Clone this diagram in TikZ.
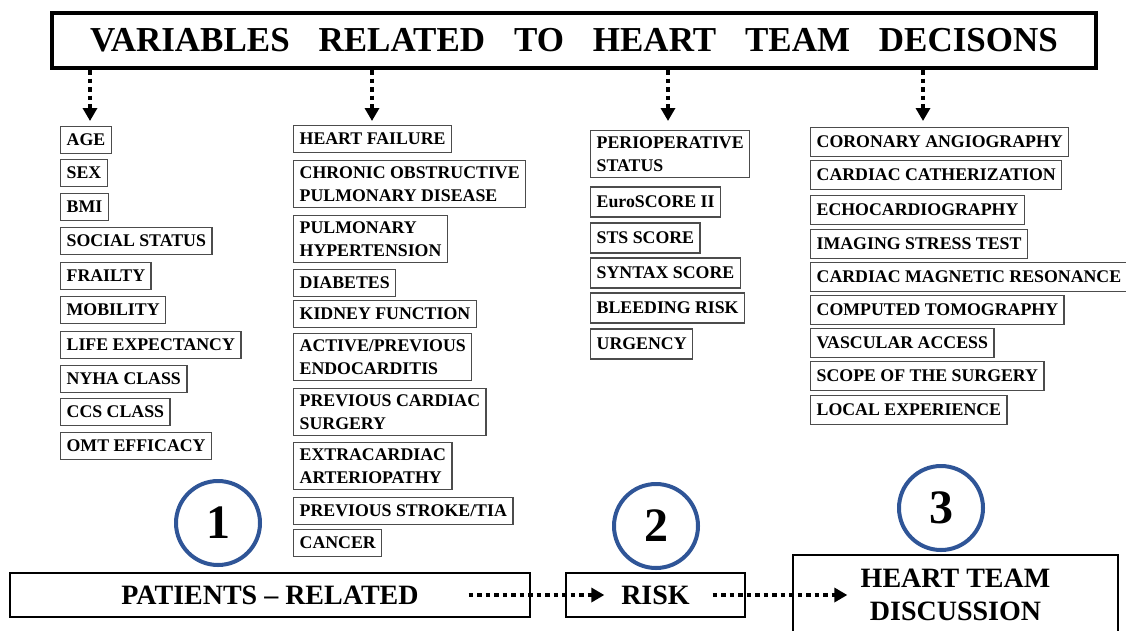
\documentclass[tikz,border=0pt]{standalone}
\usepackage{fontspec}
\setmainfont{Liberation Serif}
\usepackage{tikz}
\usetikzlibrary{arrows.meta}
\definecolor{StepBlue}{RGB}{47,85,151}

\begin{document}
\begin{tikzpicture}[x=1pt, y=-1pt,
TitleBox/.style={draw, line width=4pt, minimum height=55pt, inner xsep=38pt, text width=968pt, align=left, font=\fontsize{35}{40}\selectfont\bfseries},
ItemBox/.style={draw=black!70, line width=1.3pt, anchor=west, align=left, inner xsep=6pt, inner ysep=6pt, minimum height=27pt, font=\fontsize{17.8}{23}\selectfont\bfseries},
StepBox/.style={draw, line width=1.3pt, align=center, font=\fontsize{28}{33}\selectfont\bfseries},
StepNumber/.style={circle, draw=StepBlue, line width=4pt, minimum size=84pt, inner sep=0pt, font=\fontsize{48}{50}\selectfont\bfseries},
FlowArrow/.style={line width=4pt, dash pattern=on 4.5pt off 4pt, -{Triangle[width=14pt,length=13pt]}}]

\useasboundingbox (0,0) rectangle (1126,630);

\node[TitleBox] (title) at (574,40.5) {VARIABLES\hfill RELATED\hfill TO\hfill HEART\hfill TEAM\hfill DECISONS};

\node[ItemBox] (age) at (60,140) {AGE};
\node[ItemBox] (sex) at (60,173) {SEX};
\node[ItemBox] (bmi) at (60,207) {BMI};
\node[ItemBox] (social) at (60,241) {SOCIAL STATUS};
\node[ItemBox] (frailty) at (60,276) {FRAILTY};
\node[ItemBox] (mobility) at (60,310) {MOBILITY};
\node[ItemBox] (lifeexp) at (60,345) {LIFE EXPECTANCY};
\node[ItemBox] (nyha) at (60,379) {NYHA CLASS};
\node[ItemBox] (ccs) at (60,412) {CCS CLASS};
\node[ItemBox] (omt) at (60,446) {OMT EFFICACY};

\node[ItemBox] (hf) at (293,139) {HEART FAILURE};
\node[ItemBox] (copd) at (293,184) {CHRONIC OBSTRUCTIVE\\PULMONARY DISEASE};
\node[ItemBox] (pht) at (293,239) {PULMONARY\\HYPERTENSION};
\node[ItemBox] (diab) at (293,283) {DIABETES};
\node[ItemBox] (kidney) at (293,314) {KIDNEY FUNCTION};
\node[ItemBox] (endo) at (293,357) {ACTIVE/PREVIOUS\\ENDOCARDITIS};
\node[ItemBox] (prevsurg) at (293,412) {PREVIOUS CARDIAC\\SURGERY};
\node[ItemBox] (arterio) at (293,466) {EXTRACARDIAC\\ARTERIOPATHY};
\node[ItemBox] (stroke) at (293,511) {PREVIOUS STROKE/TIA};
\node[ItemBox] (cancer) at (293,543) {CANCER};

\node[ItemBox, minimum height=30pt] (periop) at (590,154) {PERIOPERATIVE\\STATUS};
\node[ItemBox, minimum height=30pt] (euro) at (590,202) {EuroSCORE II};
\node[ItemBox, minimum height=30pt] (sts) at (590,238) {STS SCORE};
\node[ItemBox, minimum height=30pt] (syntax) at (590,273) {SYNTAX SCORE};
\node[ItemBox, minimum height=30pt] (bleeding) at (590,308) {BLEEDING RISK};
\node[ItemBox, minimum height=30pt] (urgency) at (590,344) {URGENCY};

\node[ItemBox, minimum height=29pt] (angio) at (810,142) {CORONARY ANGIOGRAPHY};
\node[ItemBox, minimum height=29pt] (cath) at (810,175) {CARDIAC CATHERIZATION};
\node[ItemBox, minimum height=29pt] (echo) at (810,210) {ECHOCARDIOGRAPHY};
\node[ItemBox, minimum height=29pt] (stress) at (810,244) {IMAGING STRESS TEST};
\node[ItemBox, minimum height=29pt] (cmr) at (810,277) {CARDIAC MAGNETIC RESONANCE};
\node[ItemBox, minimum height=29pt] (ct) at (810,310) {COMPUTED TOMOGRAPHY};
\node[ItemBox, minimum height=29pt] (vasc) at (810,343) {VASCULAR ACCESS};
\node[ItemBox, minimum height=29pt] (scope) at (810,376) {SCOPE OF THE SURGERY};
\node[ItemBox, minimum height=29pt] (local) at (810,410) {LOCAL EXPERIENCE};

\node[StepNumber] (n1) at (218,523) {1};
\node[StepNumber] (n2) at (656,526) {2};
\node[StepNumber] (n3) at (941,508) {3};

\node[StepBox, minimum width=520pt, minimum height=44pt] (patients) at (270,595) {PATIENTS – RELATED};
\node[StepBox, minimum width=179pt, minimum height=44pt] (risk) at (655.5,595) {RISK};
\node[StepBox, minimum width=325pt, minimum height=80pt] (htd) at (955.5,595) {HEART TEAM\\DISCUSSION};

\coordinate (t1) at (90,121);
\coordinate (t2) at (372,121);
\coordinate (t3) at (668,121);
\coordinate (t4) at (923,121);

\draw[FlowArrow] (title.south -| t1) -- (t1);
\draw[FlowArrow] (title.south -| t2) -- (t2);
\draw[FlowArrow] (title.south -| t3) -- (t3);
\draw[FlowArrow] (title.south -| t4) -- (t4);
\draw[FlowArrow, shorten <=-62pt, shorten >=-39pt] (patients.east) -- (risk.west);
\draw[FlowArrow, shorten <=-33pt, shorten >=-55pt] (risk.east) -- (htd.west);

\end{tikzpicture}
\end{document}
